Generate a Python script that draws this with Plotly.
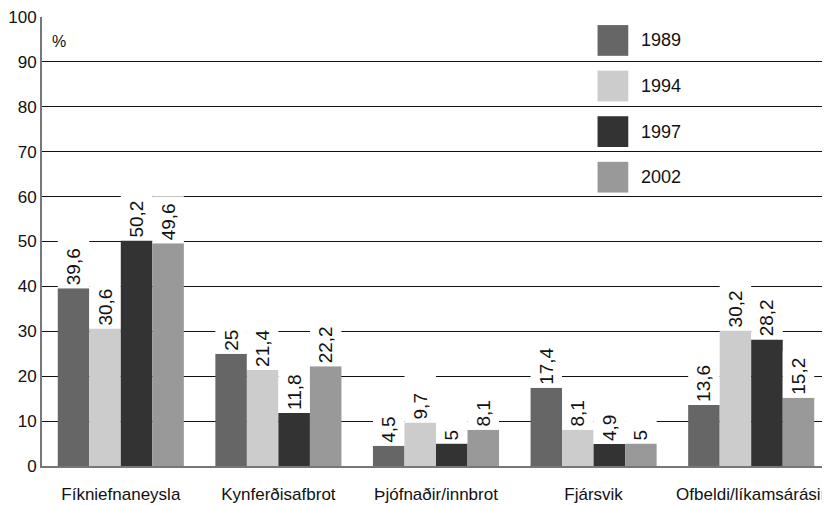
import plotly.graph_objects as go

categories = ['Fíkniefnaneysla', 'Kynferðisafbrot', 'Þjófnaðir/innbrot', 'Fjársvik', 'Ofbeldi/líkamsárásir']
years = ['1989', '1994', '1997', '2002']
v1989 = [39.6, 25, 4.5, 17.4, 13.6]
v1994 = [30.6, 21.4, 9.7, 8.1, 30.2]
v1997 = [50.2, 11.8, 5, 4.9, 28.2]
v2002 = [49.6, 22.2, 8.1, 5, 15.2]
series = [v1989, v1994, v1997, v2002]
colors = ['#666666', '#cccccc', '#333333', '#999999']

FONT = 'Liberation Sans, Arial, sans-serif'
LABEL_BOX = 10.5  # height of the white box behind value labels (in % units)


def fmt(v):
    return f'{v:g}'.replace('.', ',')


fig = go.Figure()

for name, vals, col in zip(years, series, colors):
    fig.add_trace(go.Bar(
        x=categories, y=vals, name=name,
        marker=dict(color=col, line=dict(width=0)),
        offsetgroup=name, showlegend=False,
        hovertemplate='%{x}: %{y}<extra>' + name + '</extra>',
    ))
    # white label box on top of the bar, hides the gridlines like the original
    fig.add_trace(go.Bar(
        x=categories, y=[LABEL_BOX] * len(vals), base=vals,
        marker=dict(color='white', line=dict(width=0)),
        offsetgroup=name, showlegend=False, hoverinfo='skip',
        text=[fmt(v) for v in vals],
        textposition='inside', insidetextanchor='start', textangle=-90,
        insidetextfont=dict(family=FONT, size=19, color='#111111'),
        constraintext='none',
    ))

# legend drawn as big squares like the original
shapes = []
annotations = [dict(
    text='%', xref='paper', yref='paper', x=0.01, y=0.945,
    xanchor='left', yanchor='middle', showarrow=False, font=dict(size=16),
)]
lx0, lx1, ltext = 0.705, 0.744, 0.757
ltop, lsize, lstep = 0.982, 0.0685, 0.1015
for i, (name, col) in enumerate(zip(years, colors)):
    top = ltop - i * lstep
    shapes.append(dict(type='rect', xref='paper', yref='paper',
                       x0=lx0, x1=lx1, y0=top - lsize, y1=top,
                       fillcolor=col, line=dict(width=0)))
    annotations.append(dict(text=name, xref='paper', yref='paper',
                            x=ltext, y=top - lsize / 2, xanchor='left', yanchor='middle',
                            showarrow=False, font=dict(size=18)))

fig.update_layout(
    width=822, height=497,
    margin=dict(l=32, r=0, t=5, b=39),
    barmode='group', bargap=0.2, bargroupgap=0,
    plot_bgcolor='white', paper_bgcolor='white',
    font=dict(family=FONT, size=17, color='#111111'),
    shapes=shapes,
    annotations=annotations,
)

fig.update_yaxes(
    range=[0, 100], dtick=10, showgrid=True, gridcolor='#111111', gridwidth=1,
    showline=True, linecolor='#777777', linewidth=2, ticks='',
    zeroline=False, tickfont=dict(size=17), ticklabeloverflow='allow',
)
fig.update_xaxes(
    showline=True, linecolor='#777777', linewidth=2, ticks='',
    tickfont=dict(size=17), ticklabelstandoff=12, ticklabeloverflow='allow',
)

fig.write_html('out.html')
